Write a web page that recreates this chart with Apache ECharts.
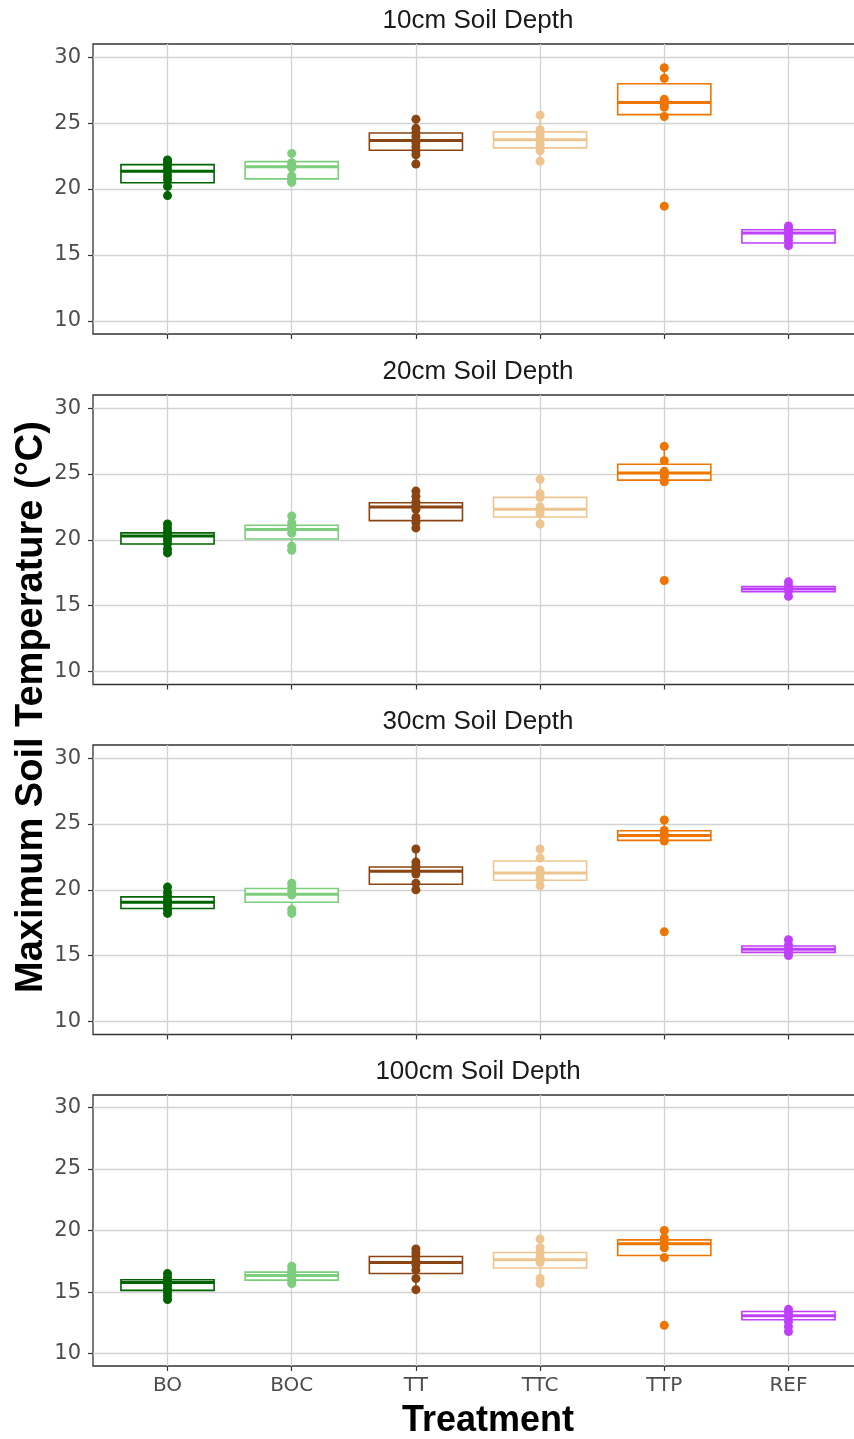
<!DOCTYPE html>
<html><head><meta charset="utf-8">
<script src="https://cdn.jsdelivr.net/npm/echarts@6/dist/echarts.min.js"></script>
<style>html,body{margin:0;padding:0;background:#fff}#c{width:854px;height:1439px}</style>
</head><body><div id="c"></div>
<script>
// ---------- data ----------
const categories = ['BO', 'BOC', 'TT', 'TTC', 'TTP', 'REF'];
const panelTitles = ['10cm Soil Depth', '20cm Soil Depth', '30cm Soil Depth', '100cm Soil Depth'];
const yTicks = [10, 15, 20, 25, 30];
const xTitle = 'Treatment';
const yTitle = 'Maximum Soil Temperature (°C)';

// box statistics (lower hinge, median, upper hinge) per treatment
const q1_10  = [20.47, 20.77, 22.94, 23.12, 25.64, 15.90];
const med_10 = [21.35, 21.68, 23.67, 23.74, 26.57, 16.66];
const q3_10  = [21.85, 22.08, 24.25, 24.33, 27.98, 16.91];
const pts_10 = [
  [22.2, 22.0, 21.8, 21.5, 21.3, 21.0, 20.7, 20.2, 19.5],
  [22.7, 22.0, 21.8, 21.6, 21.0, 20.8, 20.6, 20.5],
  [25.3, 24.6, 24.3, 24.0, 23.7, 23.5, 23.2, 22.9, 22.6, 21.9],
  [25.6, 24.5, 24.2, 23.9, 23.7, 23.4, 23.1, 22.9, 22.1],
  [29.2, 28.4, 26.8, 26.6, 26.4, 26.2, 25.5, 18.7],
  [17.2, 17.0, 16.8, 16.6, 16.4, 16.1, 15.7]
];

const q1_20  = [19.68, 20.06, 21.45, 21.73, 24.53, 16.05];
const med_20 = [20.29, 20.77, 22.48, 22.31, 25.08, 16.25];
const q3_20  = [20.52, 21.10, 22.81, 23.22, 25.74, 16.45];
const pts_20 = [
  [21.2, 20.9, 20.6, 20.4, 20.2, 20.0, 19.7, 19.3, 19.0],
  [21.8, 21.3, 21.0, 20.8, 20.5, 19.5, 19.2],
  [23.7, 23.3, 22.9, 22.6, 22.3, 21.7, 21.3, 20.9],
  [24.6, 23.5, 23.2, 22.5, 22.3, 22.0, 21.2],
  [27.1, 26.0, 25.2, 25.0, 24.8, 24.4, 16.9],
  [16.8, 16.5, 16.3, 16.1, 15.7]
];

const q1_30  = [18.57, 19.05, 20.42, 20.72, 23.75, 15.24];
const med_30 = [19.05, 19.66, 21.40, 21.27, 24.12, 15.47];
const q3_30  = [19.46, 20.09, 21.73, 22.18, 24.48, 15.72];
const pts_30 = [
  [20.2, 19.8, 19.5, 19.2, 19.0, 18.8, 18.5, 18.2],
  [20.5, 20.2, 19.9, 19.6, 18.5, 18.2],
  [23.1, 22.1, 21.8, 21.5, 21.2, 20.5, 20.0],
  [23.1, 22.4, 21.5, 21.2, 20.8, 20.3],
  [25.3, 24.5, 24.2, 24.0, 23.7, 16.8],
  [16.2, 15.8, 15.5, 15.2, 15.0]
];

const q1_100  = [15.14, 15.97, 16.51, 16.95, 17.97, 12.76];
const med_100 = [15.78, 16.35, 17.41, 17.62, 18.92, 13.08];
const q3_100  = [16.00, 16.62, 17.89, 18.22, 19.24, 13.43];
const pts_100 = [
  [16.5, 16.2, 15.9, 15.6, 15.3, 15.0, 14.7, 14.4],
  [17.1, 16.8, 16.5, 16.2, 15.9, 15.7],
  [18.5, 18.2, 17.9, 17.5, 17.2, 16.8, 16.1, 15.2],
  [19.3, 18.6, 18.2, 17.8, 17.4, 16.1, 15.7],
  [20.0, 19.4, 19.0, 18.6, 17.8, 12.3],
  [13.6, 13.3, 13.0, 12.6, 12.2, 11.8]
];

const colors = ['#006400', '#7CCD7C', '#8B4513', '#EEC591', '#EE7600', '#BF3EFF'];

// ---------- build ----------
const panels = [
  {q1: q1_10, med: med_10, q3: q3_10, pts: pts_10},
  {q1: q1_20, med: med_20, q3: q3_20, pts: pts_20},
  {q1: q1_30, med: med_30, q3: q3_30, pts: pts_30},
  {q1: q1_100, med: med_100, q3: q3_100, pts: pts_100}
];
const gridPos = [
  {top: 44, height: 290},
  {top: 395, height: 289.5},
  {top: 745, height: 289.5},
  {top: 1095, height: 271}
];
const titleY = [21, 372, 722, 1072];

const tickFont = 'DejaVu Sans';
const grids = [], xAxes = [], yAxes = [], series = [], graphics = [];

panels.forEach((p, i) => {
  grids.push({left: 93, width: 770, top: gridPos[i].top, height: gridPos[i].height,
    outerBoundsMode: 'none', containLabel: false,
    show: true, borderColor: '#333333', borderWidth: 1.3, backgroundColor: 'transparent'});
  xAxes.push({
    type: 'value', gridIndex: i, min: 0.4, max: 6.6,
    axisLine: {show: false},
    axisTick: {show: true, length: 5, customValues: [1, 2, 3, 4, 5, 6], lineStyle: {color: '#333333', width: 1.2}},
    splitLine: {show: true, lineStyle: {color: '#d2d2d2', width: 1.3}},
    axisLabel: {show: i === 3, customValues: [1, 2, 3, 4, 5, 6], margin: 10, color: '#4d4d4d', fontSize: 20, fontFamily: tickFont,
      formatter: v => (Math.abs(v - Math.round(v)) < 1e-6 && v >= 1 && v <= 6) ? categories[Math.round(v) - 1] : ''}
  });
  yAxes.push({
    type: 'value', gridIndex: i, min: 9, max: 31,
    axisLine: {show: false},
    axisTick: {show: true, length: 5, customValues: yTicks, lineStyle: {color: '#333333', width: 1.2}},
    splitLine: {show: true, lineStyle: {color: '#d2d2d2', width: 1.3}},
    axisLabel: {show: true, customValues: yTicks, margin: 12, color: '#4d4d4d', fontSize: 21, fontFamily: tickFont,
      formatter: v => (yTicks.indexOf(v) >= 0 ? String(v) : '')}
  });

  // box data: [x, lowWhisker, q1, median, q3, highWhisker]
  const boxData = categories.map((c, k) => {
    const iqr = p.q3[k] - p.q1[k];
    const loF = p.q1[k] - 1.5 * iqr, hiF = p.q3[k] + 1.5 * iqr;
    const inside = p.pts[k].filter(v => v >= loF && v <= hiF);
    const lo = Math.min(p.q1[k], ...inside), hi = Math.max(p.q3[k], ...inside);
    return [k + 1, lo, p.q1[k], p.med[k], p.q3[k], hi];
  });
  series.push({
    type: 'custom', xAxisIndex: i, yAxisIndex: i, z: 2,
    encode: {x: 0, y: [1, 2, 3, 4, 5]},
    data: boxData,
    renderItem: (params, api) => {
      const x = api.value(0);
      const col = colors[x - 1];
      const pLo = api.coord([x, api.value(1)]);
      const pQ1 = api.coord([x, api.value(2)]);
      const pMd = api.coord([x, api.value(3)]);
      const pQ3 = api.coord([x, api.value(4)]);
      const pHi = api.coord([x, api.value(5)]);
      const half = api.size([0.75, 0])[0] / 2;
      return {type: 'group', children: [
        {type: 'line', shape: {x1: pLo[0], y1: pLo[1], x2: pQ1[0], y2: pQ1[1]}, style: {stroke: col, lineWidth: 1.5}},
        {type: 'line', shape: {x1: pQ3[0], y1: pQ3[1], x2: pHi[0], y2: pHi[1]}, style: {stroke: col, lineWidth: 1.5}},
        {type: 'rect', shape: {x: pMd[0] - half, y: pQ3[1], width: 2 * half, height: pQ1[1] - pQ3[1]},
          style: {fill: '#ffffff', stroke: col, lineWidth: 1.6}},
        {type: 'line', shape: {x1: pMd[0] - half, y1: pMd[1], x2: pMd[0] + half, y2: pMd[1]}, style: {stroke: col, lineWidth: 3}}
      ]};
    }
  });

  const ptData = [];
  p.pts.forEach((arr, k) => arr.forEach(v => ptData.push([k + 1, v])));
  series.push({
    type: 'scatter', xAxisIndex: i, yAxisIndex: i, z: 3,
    symbol: 'circle', symbolSize: 9,
    data: ptData,
    itemStyle: {opacity: 1, color: params => colors[params.data[0] - 1]}
  });

  graphics.push({type: 'text', x: 478, y: titleY[i], z: 10,
    style: {text: panelTitles[i], align: 'center', verticalAlign: 'middle', fill: '#1a1a1a',
      fontSize: 26, fontFamily: 'Liberation Sans'}});
});

graphics.push({type: 'text', x: 32, y: 707, rotation: Math.PI / 2, z: 10,
  style: {text: yTitle, align: 'center', verticalAlign: 'middle', fill: '#000000',
    fontSize: 38, fontWeight: 'bold', fontFamily: 'Liberation Sans'}});
graphics.push({type: 'text', x: 488, y: 1421, z: 10,
  style: {text: xTitle, align: 'center', verticalAlign: 'middle', fill: '#000000',
    fontSize: 36, fontWeight: 'bold', fontFamily: 'Liberation Sans'}});

const chart = echarts.init(document.getElementById('c'), null, {renderer: 'canvas'});
chart.setOption({
  animation: false,
  backgroundColor: '#ffffff',
  grid: grids, xAxis: xAxes, yAxis: yAxes, series: series, graphic: graphics
});
</script>
</body></html>
